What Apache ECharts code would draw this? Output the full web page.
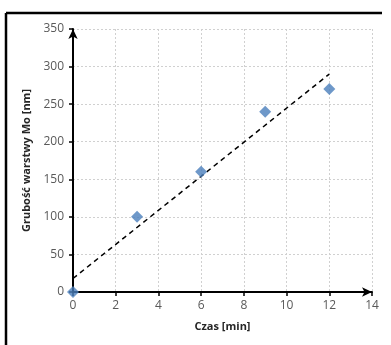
<!DOCTYPE html>
<html>
<head>
<meta charset="utf-8">
<script src="https://cdn.jsdelivr.net/npm/echarts@6/dist/echarts.min.js"></script>
<style>
  html, body { margin: 0; padding: 0; background: #fff; overflow: hidden; }
  #chart { width: 391px; height: 345px; }
</style>
</head>
<body>
<div id="chart"></div>
<script>
// czas [min] i grubość [nm]
const czas = [0, 3, 6, 9, 12];
const grubosc = [0, 100, 160, 240, 270];
// linia trendu, końce
const trendX = [0, 12];
const trendY = [18, 290];

const points = czas.map((x, i) => [x, grubosc[i]]);
const trend = trendX.map((x, i) => [x, trendY[i]]);

const labelFont = { color: '#595959', fontSize: 12, fontFamily: 'Open Sans' };
const axisLineStyle = { color: '#000', width: 2 };
const gridLine = { show: true, lineStyle: { color: '#d0d0d0', type: [2, 2], width: 1 } };
const frame = { stroke: '#000', lineWidth: 2.5 };

const option = {
  animation: false,
  graphic: [
    { type: 'line', shape: { x1: 6, y1: 13, x2: 382, y2: 13 }, style: frame, z: 100 },
    { type: 'line', shape: { x1: 6, y1: 13, x2: 6, y2: 345 }, style: frame, z: 100 }
  ],
  grid: { left: 73, right: 19, top: 29, bottom: 53 },
  xAxis: {
    type: 'value', min: 0, max: 14, interval: 2,
    name: 'Czas [min]', nameLocation: 'middle', nameGap: 29,
    nameTextStyle: { color: '#262626', fontSize: 11, fontWeight: 'bold', fontFamily: 'Open Sans' },
    axisLine: { show: true, onZero: false, symbol: ['none', 'arrow'], symbolSize: [7, 10], lineStyle: axisLineStyle },
    axisTick: { show: true, length: 4, lineStyle: { color: '#000', width: 1.5 } },
    axisLabel: Object.assign({ margin: 8 }, labelFont),
    splitLine: gridLine
  },
  yAxis: {
    type: 'value', min: 0, max: 350, interval: 50,
    name: 'Grubość warstwy Mo [nm]', nameLocation: 'middle', nameGap: 39,
    nameTextStyle: { color: '#262626', fontSize: 11, fontWeight: 'bold', fontFamily: 'Open Sans' },
    axisLine: { show: true, onZero: false, symbol: ['none', 'arrow'], symbolSize: [7, 10], lineStyle: axisLineStyle },
    axisTick: { show: true, length: 4, lineStyle: { color: '#000', width: 1.5 } },
    axisLabel: Object.assign({ margin: 9 }, labelFont),
    splitLine: gridLine
  },
  series: [
    {
      type: 'line',
      data: trend,
      symbol: 'none',
      lineStyle: { color: '#000', width: 1.5, type: [5, 4] },
      z: 3
    },
    {
      type: 'scatter',
      data: points,
      symbol: 'diamond',
      symbolSize: 12,
      itemStyle: { color: '#4a7ebb' },
      clip: false,
      z: 10
    }
  ]
};

echarts.init(document.getElementById('chart')).setOption(option);
</script>
</body>
</html>
